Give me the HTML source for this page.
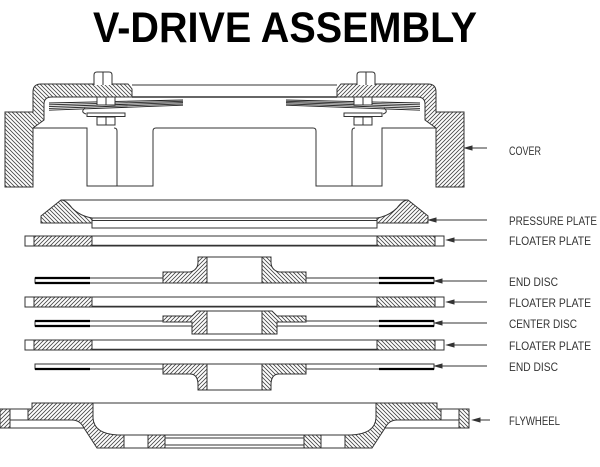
<!DOCTYPE html>
<html><head><meta charset="utf-8"><style>html,body{margin:0;padding:0;background:#fff}svg{display:block}</style></head>
<body>
<svg width="600" height="467" viewBox="0 0 600 467" xmlns="http://www.w3.org/2000/svg">
<defs>
<pattern id="hA" patternUnits="userSpaceOnUse" width="4" height="4"><path d="M-1,1 L1,-1 M0,4 L4,0 M3,5 L5,3" stroke="#444" stroke-width="0.8"/></pattern>
<pattern id="hB" patternUnits="userSpaceOnUse" width="4" height="4"><path d="M-1,3 L1,5 M0,0 L4,4 M3,-1 L5,1" stroke="#444" stroke-width="0.8"/></pattern>
<g id="half" stroke="#333" stroke-width="1" fill="none">
  <path d="M5,112 L33,112 L33,92 Q33,84 41,84 L128,84 L132,89 L132,97 L52,97 Q44,97 44,104 L44,120 L33,128 L33,187 L5,187 Z" fill="url(#hB)"/>
  <line x1="132" y1="85" x2="234.5" y2="85"/>
  <line x1="132" y1="97" x2="234.5" y2="97" stroke-width="1.6"/>
  <path d="M33,128 L87,128 L87,186 L153,186 L153,131 Q153,128 156,128 L234.5,128"/>
  <path d="M117,186 L117,131 Q117,128 114,128"/>
  <g stroke="#222" stroke-width="0.9">
    <line x1="49" y1="103" x2="183" y2="100"/>
    <line x1="49" y1="104.8" x2="183" y2="101.3"/>
    <line x1="49" y1="106.6" x2="183" y2="102.6"/>
    <line x1="49" y1="108.4" x2="183" y2="103.9"/>
    <line x1="49" y1="110.2" x2="183" y2="105.2"/>
  </g>
  <path d="M94,85 L94,75 Q94,72 97,72 L109,72 Q112,72 112,75 L112,85" fill="#fff"/>
  <line x1="103" y1="72" x2="103" y2="85"/>
  <rect x="97" y="97" width="18" height="8" fill="#fff"/>
  <line x1="106" y1="97" x2="106" y2="105"/>
  <rect x="87" y="113" width="38" height="3.5" fill="#fff"/>
  <rect x="97" y="117" width="18" height="8" fill="#fff"/>
  <line x1="106" y1="117" x2="106" y2="125"/>
  <path d="M85,108 Q80,112 86,114"/>
  <path d="M61,200 L41,216 L41,223 L92,223 L92,218 Q80,216 72,208 Q66,200 61,200 Z" fill="url(#hB)"/>
  <line x1="61" y1="200" x2="234.5" y2="200"/>
  <path d="M234.5,218 L92,218 L92,228 L234.5,228"/>
  <line x1="92" y1="220.5" x2="234.5" y2="220.5"/>
  <path d="M234.5,236 L25,236 L25,246 L234.5,246"/>
  <rect x="34" y="236" width="58" height="10" fill="url(#hA)"/>
  <line x1="92" y1="245.5" x2="234.5" y2="245.5" stroke-width="1.5"/>
  <path d="M234.5,297 L25,297 L25,307 L234.5,307"/>
  <rect x="34" y="297" width="58" height="10" fill="url(#hA)"/>
  <line x1="92" y1="306.5" x2="234.5" y2="306.5" stroke-width="1.5"/>
  <path d="M234.5,340 L25,340 L25,350 L234.5,350"/>
  <rect x="34" y="340" width="58" height="10" fill="url(#hA)"/>
  <line x1="92" y1="349.5" x2="234.5" y2="349.5" stroke-width="1.5"/>
  <path d="M163,278 L35,278 L35,283 L163,283"/>
  <line x1="35" y1="278" x2="90" y2="278" stroke="#000" stroke-width="2.2"/>
  <line x1="35" y1="283" x2="90" y2="283" stroke="#000" stroke-width="2.2"/>
  <path d="M163,272 L190,272 Q198,270 198,262 L198,257 L207,257 L207,283 L163,283 Z" fill="url(#hA)"/>
  <line x1="207" y1="257" x2="234.5" y2="257"/>
  <line x1="207" y1="283" x2="234.5" y2="283"/>
  <path d="M163,321 L35,321 L35,326 L192,326"/>
  <line x1="35" y1="321" x2="90" y2="321" stroke="#000" stroke-width="2.2"/>
  <line x1="35" y1="326" x2="90" y2="326" stroke="#000" stroke-width="2.2"/>
  <path d="M163,316 L192,316 L197,311 L207,311 L207,334 L192,334 L192,322 L163,322 Z" fill="url(#hA)"/>
  <line x1="207" y1="311" x2="234.5" y2="311"/>
  <line x1="207" y1="334" x2="234.5" y2="334"/>
  <path d="M163,364 L35,364 L35,369 L163,369"/>
  <line x1="35" y1="369" x2="90" y2="369" stroke="#000" stroke-width="2.2"/>
  <path d="M163,364 L207,364 L207,390 L198,390 L198,385 Q198,374 190,374 L163,374 Z" fill="url(#hA)"/>
  <line x1="207" y1="364" x2="234.5" y2="364"/>
  <line x1="207" y1="390" x2="234.5" y2="390"/>
  <rect x="0" y="409" width="10" height="19" fill="url(#hA)"/>
  <rect x="10" y="409" width="18" height="11"/>
  <path d="M28,409 L32,409 L32,403 L93,403 L93,418 Q94,434 118,435 L124,435 L124,448 L97,448 L84,428 Q80,420 72,420 L28,420 Z" fill="url(#hA)"/>
  <line x1="0" y1="428" x2="84" y2="428"/>
  <line x1="93" y1="403" x2="234.5" y2="403"/>
  <rect x="124" y="435" width="24" height="13"/>
  <rect x="148" y="435" width="17" height="13" fill="url(#hA)"/>
  <line x1="165" y1="435" x2="234.5" y2="435"/>
  <line x1="165" y1="438" x2="234.5" y2="438"/>
  <line x1="165" y1="445" x2="234.5" y2="445"/>
  <line x1="165" y1="448" x2="234.5" y2="448"/>
</g>
</defs>
<text x="93" y="42" font-family="Liberation Sans, sans-serif" font-weight="bold" font-size="43" textLength="384" lengthAdjust="spacingAndGlyphs">V-DRIVE ASSEMBLY</text>
<use href="#half"/>
<use href="#half" transform="translate(469,0) scale(-1,1)"/>
<g stroke="#333" stroke-width="1" fill="#333">
  <line x1="468" y1="148" x2="487" y2="148"/><path d="M465,148 L472,146 L472,150 Z"/>
  <line x1="431" y1="220" x2="487" y2="220"/><path d="M429,220 L436,218 L436,222 Z"/>
  <line x1="449" y1="240" x2="487" y2="240"/><path d="M447,240 L454,238 L454,242 Z"/>
  <line x1="437" y1="281" x2="487" y2="281"/><path d="M435,281 L442,279 L442,283 Z"/>
  <line x1="449" y1="302" x2="487" y2="302"/><path d="M447,302 L454,300 L454,304 Z"/>
  <line x1="437" y1="323" x2="487" y2="323"/><path d="M435,323 L442,321 L442,325 Z"/>
  <line x1="449" y1="345" x2="487" y2="345"/><path d="M447,345 L454,343 L454,347 Z"/>
  <line x1="437" y1="366" x2="487" y2="366"/><path d="M435,366 L442,364 L442,368 Z"/>
  <line x1="475" y1="420" x2="490" y2="420"/><path d="M473,420 L480,418 L480,422 Z"/>
</g>
<g font-family="Liberation Sans, sans-serif" font-size="12" fill="#333">
  <text x="509" y="155" textLength="32" lengthAdjust="spacingAndGlyphs">COVER</text>
  <text x="509" y="225" textLength="88" lengthAdjust="spacingAndGlyphs">PRESSURE PLATE</text>
  <text x="509" y="245" textLength="82" lengthAdjust="spacingAndGlyphs">FLOATER PLATE</text>
  <text x="509" y="286" textLength="49" lengthAdjust="spacingAndGlyphs">END DISC</text>
  <text x="509" y="307" textLength="82" lengthAdjust="spacingAndGlyphs">FLOATER PLATE</text>
  <text x="509" y="328" textLength="68" lengthAdjust="spacingAndGlyphs">CENTER DISC</text>
  <text x="509" y="350" textLength="82" lengthAdjust="spacingAndGlyphs">FLOATER PLATE</text>
  <text x="509" y="371" textLength="49" lengthAdjust="spacingAndGlyphs">END DISC</text>
  <text x="509" y="425" textLength="51" lengthAdjust="spacingAndGlyphs">FLYWHEEL</text>
</g>
</svg>
</body></html>
